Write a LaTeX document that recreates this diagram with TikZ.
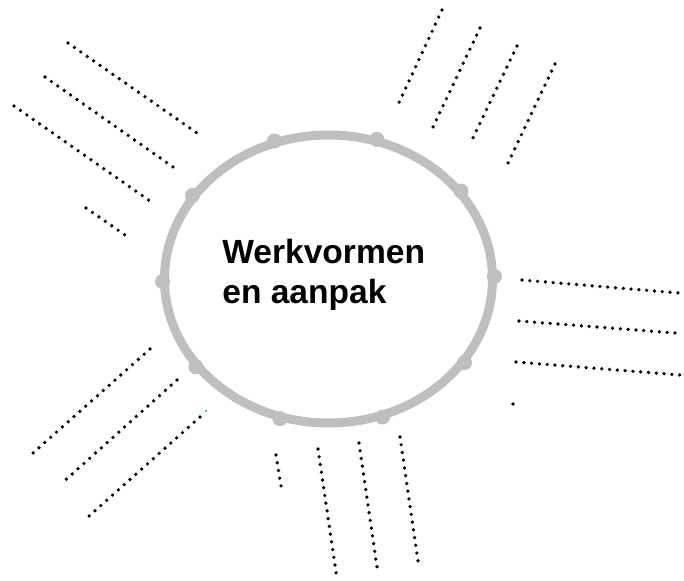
\documentclass[tikz,border=0pt]{standalone}
\usepackage{fontspec}
\setmainfont{Liberation Sans}
\definecolor{ringgray}{RGB}{191,191,191}
\begin{document}
\begin{tikzpicture}[x=0.02cm,y=-0.02cm,
    dotline/.style={line width=2.1pt,line cap=round,dash pattern=on 0pt off 4.45pt},
    ring/.style={line width=0.18cm,color=ringgray},
    knob/.style={fill=ringgray}]
    \useasboundingbox (0,0) rectangle (684,581);

    \foreach \xa/\ya/\xb/\yb in {68/43/197/133, 45/77/173/167, 14/106/150/201, 86/208/125/235,
        442/10/396/109, 480/28/433/127, 517/46/470/144, 555/64/508/163,
        522/280/679/293, 519/321/675/333, 516/362/680/375,
        276/455/281/486, 318/449/337/579, 359/443/378/574, 400/437/419/568,
        150/349/33/453, 177/380/61/484, 200/417/88/517}
      \draw[dotline] (\xa,\ya) -- (\xb,\yb);
    \fill (513,404) circle (1.8);
    \fill[teal!60!green] (206,411) circle (1.1);

    \draw[ring] (328.5,279) ellipse (164 and 144);
    \foreach \t in {1,37,...,325}
      \fill[knob] ({328.5+166*cos(\t)},{279-146*sin(\t)}) circle (7.5);

    \node[anchor=north west,align=left,inner sep=0,font=\fontsize{19.1}{22.7}\selectfont\bfseries] (title) at (222,239) {Werkvormen\\en aanpak};
  \end{tikzpicture}
\end{document}
